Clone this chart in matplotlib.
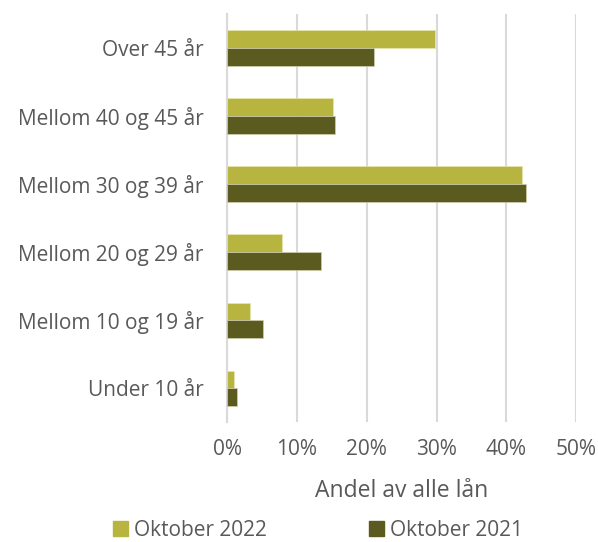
import numpy as np
import matplotlib.pyplot as plt
from matplotlib.ticker import PercentFormatter
from matplotlib.patches import Patch

plt.rcParams['font.family'] = ['Open Sans', 'DejaVu Sans']

# data (share of all loans, %)
categories = ['Under 10 år', 'Mellom 10 og 19 år', 'Mellom 20 og 29 år',
              'Mellom 30 og 39 år', 'Mellom 40 og 45 år', 'Over 45 år']
okt_2022 = [0.9, 3.3, 7.9, 42.2, 15.2, 29.7]
okt_2021 = [1.4, 5.1, 13.4, 42.8, 15.4, 21.0]
series_names = ['Oktober 2022', 'Oktober 2021']

c22 = '#B7B440'
c21 = '#5B5A1F'
grey = '#595959'

fig = plt.figure(figsize=(5.98, 5.42), dpi=100)
ax = fig.add_axes([0.380, 0.221, 0.5837, 0.753])

y = np.arange(len(categories))
h = 0.26
ax.barh(y + h/2, okt_2022, height=h, color=c22, edgecolor='#e6e6b0', linewidth=0.5, zorder=3)
ax.barh(y - h/2, okt_2021, height=h, color=c21, edgecolor='#d0d0b0', linewidth=0.5, zorder=3)

ax.set_xlim(0, 50)
ax.set_ylim(-0.5, 5.5)
ax.set_xticks(np.arange(0, 51, 10))
ax.xaxis.set_major_formatter(PercentFormatter(decimals=0))
ax.set_yticks(y)
ax.set_yticklabels(categories)

ax.grid(axis='x', color='#d9d9d9', linewidth=1.5, zorder=0)
for s in ['top', 'right', 'bottom']:
    ax.spines[s].set_visible(False)
ax.spines['left'].set_color('#d9d9d9')
ax.spines['left'].set_linewidth(1.5)

ax.tick_params(axis='both', length=0, labelsize=15, colors=grey)
ax.tick_params(axis='y', pad=17)
ax.tick_params(axis='x', pad=12)
ax.set_xlabel('Andel av alle lån', fontsize=16.5, color=grey, labelpad=14)

handles = [Patch(color=c22), Patch(color=c21)]
fig.legend(handles, series_names, loc='center', bbox_to_anchor=(318/598, 1 - 530/542),
           ncol=2, frameon=False, fontsize=15, labelcolor=grey,
           handlelength=0.7, handleheight=0.7, handletextpad=0.3, columnspacing=4.9)

fig.savefig('out.png', dpi=100)
